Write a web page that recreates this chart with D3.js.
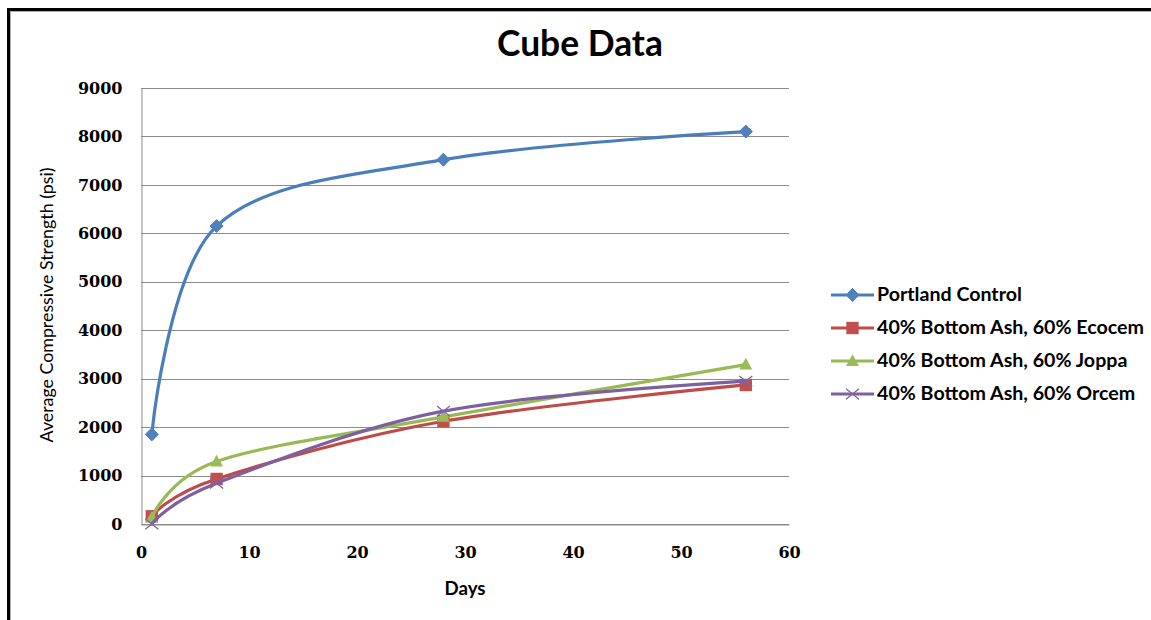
<!DOCTYPE html>
<html>
<head>
<meta charset="utf-8">
<script src="https://cdn.jsdelivr.net/npm/d3@7"></script>
<style>
  html, body { margin: 0; padding: 0; background: #fff; }
  svg { display: block; }
</style>
</head>
<body>
<svg id="chart" width="1151" height="620"></svg>
<script>
// Compressive strength of cube specimens over curing time
const days = [1, 7, 28, 56];
const seriesNames = [
  "Portland Control",
  "40% Bottom Ash, 60% Ecocem",
  "40% Bottom Ash, 60% Joppa",
  "40% Bottom Ash, 60% Orcem"
];
const portland = [1850, 6150, 7520, 8100];
const ecocem   = [160, 930, 2120, 2870];
const joppa    = [130, 1290, 2210, 3290];
const orcem    = [0, 840, 2330, 2950];
const xTicks = [0, 10, 20, 30, 40, 50, 60];
const yTicks = [0, 1000, 2000, 3000, 4000, 5000, 6000, 7000, 8000, 9000];

const lineColors   = ["#4a7ebb", "#be4b48", "#98b954", "#7d60a0"];
const markerColors = ["#4f81bd", "#c0504d", "#9bbb59", "#8064a2"];
const markerKinds  = ["diamond", "square", "triangle", "cross"];
const values = [portland, ecocem, joppa, orcem];

const svg = d3.select("#chart");

// outer frame of the chart area
svg.append("rect")
  .attr("x", 8.5).attr("y", 9.5).attr("width", 1400).attr("height", 900)
  .attr("fill", "#fff").attr("stroke", "#000").attr("stroke-width", 3);
svg.append("rect")
  .attr("x", 10.5).attr("y", 11.5).attr("width", 1400).attr("height", 900)
  .attr("fill", "none").attr("stroke", "#b0b0b0").attr("stroke-width", 1);

const plot = { left: 141, right: 789, top: 88, bottom: 524 };
const x = d3.scaleLinear().domain([0, 60]).range([plot.left, plot.right]);
const y = d3.scaleLinear().domain([0, 9000]).range([plot.bottom, plot.top]);

// horizontal gridlines
svg.append("g")
  .selectAll("line").data(yTicks).join("line")
  .attr("x1", plot.left).attr("x2", plot.right)
  .attr("y1", d => Math.round(y(d)) + 0.5).attr("y2", d => Math.round(y(d)) + 0.5)
  .attr("stroke", "#8c8c8c").attr("stroke-width", 1);

// axes
const tickFont = "'DejaVu Serif', serif";
const yAxis = svg.append("g")
  .attr("transform", `translate(${plot.left + 0.5},0)`)
  .call(d3.axisLeft(y).tickValues(yTicks).tickSize(0).tickPadding(19).tickFormat(d3.format("d")));
const xAxis = svg.append("g")
  .attr("transform", `translate(0,${plot.bottom + 0.5})`)
  .call(d3.axisBottom(x).tickValues(xTicks).tickSize(0).tickPadding(22).tickFormat(d3.format("d")));
[yAxis, xAxis].forEach(g => {
  g.select(".domain").attr("stroke", "#8c8c8c");
  g.selectAll("text")
    .attr("font-family", tickFont).attr("font-weight", "bold")
    .attr("font-size", 16).attr("fill", "#000");
});

// helper: scale font size so a text spans a given width
function fitText(sel, target) {
  const base = +sel.attr("font-size");
  const w = sel.node().getComputedTextLength();
  sel.attr("font-size", base * target / w);
}

const sans = "Lato, 'Open Sans', sans-serif";

// title
const title = svg.append("text")
  .attr("x", 580).attr("y", 56).attr("text-anchor", "middle")
  .attr("font-family", sans).attr("font-weight", "bold").attr("font-size", 26)
  .text("Cube Data");
fitText(title, 166);

// axis titles
const yTitle = svg.append("text")
  .attr("transform", "translate(53,305) rotate(-90)").attr("text-anchor", "middle")
  .attr("font-family", sans).attr("font-size", 15)
  .text("Average Compressive Strength (psi)");
fitText(yTitle, 275);

const xTitle = svg.append("text")
  .attr("x", 465).attr("y", 595).attr("text-anchor", "middle")
  .attr("font-family", sans).attr("font-weight", "bold").attr("font-size", 15)
  .text("Days");
fitText(xTitle, 41);

// markers
function drawMarker(g, kind, cx, cy, color, s) {
  if (kind === "diamond") {
    g.append("path")
      .attr("d", `M${cx},${cy - s}L${cx + s},${cy}L${cx},${cy + s}L${cx - s},${cy}Z`)
      .attr("fill", color).attr("stroke", color).attr("stroke-width", 1);
  } else if (kind === "square") {
    g.append("rect")
      .attr("x", cx - s * 0.95).attr("y", cy - s * 0.95)
      .attr("width", s * 1.9).attr("height", s * 1.9)
      .attr("fill", color);
  } else if (kind === "triangle") {
    g.append("path")
      .attr("d", `M${cx},${cy - s * 1.05}L${cx + s},${cy + s * 0.75}L${cx - s},${cy + s * 0.75}Z`)
      .attr("fill", color);
  } else {
    g.append("path")
      .attr("d", `M${cx - s},${cy - s * 0.8}L${cx + s},${cy + s * 0.8}M${cx - s},${cy + s * 0.8}L${cx + s},${cy - s * 0.8}`)
      .attr("stroke", color).attr("stroke-width", 1.3).attr("fill", "none");
  }
}

const line = d3.line()
  .x(d => x(d[0])).y(d => y(d[1]))
  .curve(d3.curveCardinal.tension(0));

values.forEach((vals, i) => {
  const pts = days.map((d, j) => [d, vals[j]]);
  const g = svg.append("g");
  g.append("path")
    .attr("d", line(pts))
    .attr("fill", "none").attr("stroke", lineColors[i])
    .attr("stroke-width", 3.2).attr("stroke-linecap", "round");
  pts.forEach(p => drawMarker(g, markerKinds[i], x(p[0]), y(p[1]), markerColors[i], 6.5));
});

// legend
const legend = svg.append("g");
seriesNames.forEach((name, i) => {
  const ly = 295 + i * 33;
  legend.append("line")
    .attr("x1", 831).attr("x2", 874).attr("y1", ly).attr("y2", ly)
    .attr("stroke", lineColors[i]).attr("stroke-width", 3.2);
  drawMarker(legend, markerKinds[i], 852.5, ly, markerColors[i], 6.5);
  const t = legend.append("text")
    .attr("x", 877).attr("y", ly + 5.5)
    .attr("font-family", sans).attr("font-weight", "bold").attr("font-size", 15)
    .attr("fill", "#000")
    .text(name);
  if (i === 0) fitText(t, 145);
  else t.attr("font-size", legend.select("text").attr("font-size"));
});
</script>
</body>
</html>
